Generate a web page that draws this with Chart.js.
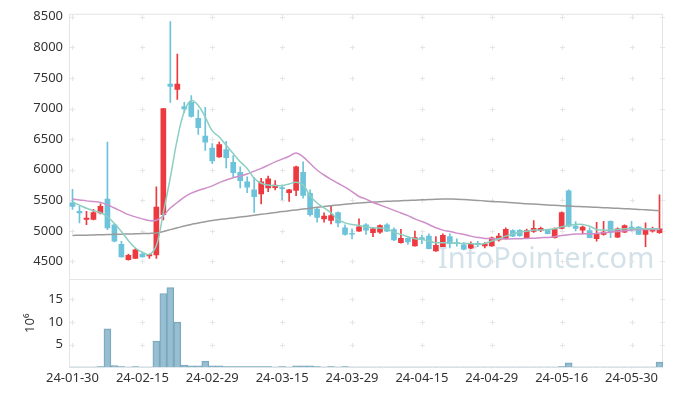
<!DOCTYPE html>
<html>
<head>
<meta charset="utf-8">
<script src="https://cdn.jsdelivr.net/npm/chart.js@4/dist/chart.umd.min.js"></script>
<style>
  body { margin: 0; background: #fff; }
</style>
</head>
<body>
<canvas id="myChart" width="673" height="398"></canvas>
<script>
// trading days
const dates = [
    '24-01-30', '24-01-31', '24-02-01', '24-02-02', '24-02-05', '24-02-06', '24-02-07', '24-02-08', '24-02-13', '24-02-14',
    '24-02-15', '24-02-16', '24-02-19', '24-02-20', '24-02-21', '24-02-22', '24-02-23', '24-02-26', '24-02-27', '24-02-28',
    '24-02-29', '24-03-04', '24-03-05', '24-03-06', '24-03-07', '24-03-08', '24-03-11', '24-03-12', '24-03-13', '24-03-14',
    '24-03-15', '24-03-18', '24-03-19', '24-03-20', '24-03-21', '24-03-22', '24-03-25', '24-03-26', '24-03-27', '24-03-28',
    '24-03-29', '24-04-01', '24-04-02', '24-04-03', '24-04-04', '24-04-05', '24-04-08', '24-04-09', '24-04-11', '24-04-12',
    '24-04-15', '24-04-16', '24-04-17', '24-04-18', '24-04-19', '24-04-22', '24-04-23', '24-04-24', '24-04-25', '24-04-26',
    '24-04-29', '24-04-30', '24-05-02', '24-05-03', '24-05-07', '24-05-08', '24-05-09', '24-05-10', '24-05-13', '24-05-14',
    '24-05-16', '24-05-17', '24-05-20', '24-05-21', '24-05-22', '24-05-23', '24-05-24', '24-05-27', '24-05-28', '24-05-29',
    '24-05-30', '24-05-31', '24-06-03', '24-06-04', '24-06-05'
];

const opens = [
    5460, 5320, 5185, 5185, 5295, 5520, 5100, 4780, 4530, 4550,
    4620, 4590, 4607, 5265, 7400, 7310, 7030, 7100, 6840, 6550,
    6355, 6210, 6330, 6120, 5955, 5800, 5670, 5605, 5700, 5705,
    5700, 5625, 5660, 5955, 5615, 5355, 5195, 5170, 5300, 5050,
    4958, 4995, 5100, 4970, 4980, 5100, 5020, 4808, 4877, 4755,
    4890, 4915, 4672, 4743, 4905, 4807, 4770, 4715, 4796, 4752,
    4752, 4850, 4872, 5006, 5010, 4888, 4990, 5006, 5012, 4888,
    5040, 5654, 5076, 5012, 5006, 4872, 4942, 5157, 4898, 4979,
    5060, 5060, 4942, 4995, 4969
];
const highs = [
    5680, 5400, 5320, 5350, 5440, 6450, 5110, 4830, 4620, 4710,
    4650, 4620, 5720, 7000, 8420, 7890, 7100, 7210, 6975, 7020,
    6425, 6450, 6465, 6230, 6045, 5885, 5875, 5860, 5895, 5820,
    5750, 5680, 6060, 6130, 5670, 5370, 5295, 5415, 5310, 5100,
    5035, 5195, 5120, 5050, 5100, 5120, 5050, 5023, 4890, 4995,
    4930, 4950, 4905, 4950, 4950, 4870, 4810, 4820, 4830, 4810,
    4900, 4960, 5050, 5020, 5020, 5030, 5168, 5060, 5020, 5050,
    5310, 5670, 5150, 5080, 5050, 5141, 5157, 5165, 5050, 5100,
    5157, 5070, 5131, 5060, 5590
];
const lows = [
    5350, 5130, 5100, 5180, 5275, 5020, 4820, 4570, 4520, 4545,
    4570, 4550, 4550, 5180, 7100, 7150, 6935, 6860, 6575, 6315,
    6100, 6200, 6030, 5885, 5700, 5625, 5300, 5440, 5640, 5670,
    5510, 5480, 5575, 5535, 5240, 5140, 5140, 5115, 5065, 4930,
    4870, 4990, 4940, 4905, 4960, 4985, 4840, 4800, 4780, 4750,
    4790, 4705, 4665, 4740, 4720, 4750, 4690, 4710, 4740, 4720,
    4745, 4830, 4865, 4905, 4910, 4880, 4975, 4985, 4950, 4880,
    5030, 5065, 5000, 4955, 4885, 4833, 4930, 4890, 4890, 4970,
    5000, 4940, 4743, 4980, 4960
];
const closes = [
    5400, 5295, 5210, 5300, 5400, 5050, 4830, 4575, 4600, 4690,
    4575, 4612, 5390, 7000, 7360, 7400, 6995, 6870, 6685, 6450,
    6145, 6410, 6195, 5950, 5820, 5715, 5560, 5800, 5850, 5750,
    5690, 5670, 6045, 5580, 5265, 5220, 5240, 5250, 5130, 4940,
    4945, 5065, 5010, 5035, 5085, 4995, 4850, 4877, 4820, 4890,
    4860, 4710, 4765, 4925, 4790, 4792, 4700, 4795, 4780, 4785,
    4888, 4915, 5023, 4915, 4920, 5006, 5040, 5040, 4955, 5023,
    5300, 5076, 5040, 5060, 4888, 4942, 4979, 4979, 5034, 5087,
    5023, 4942, 5034, 5034, 5034
];

// volume in millions of shares
const volumes = [
    0.05, 0.05, 0.05, 0.05, 0.2, 8.5, 0.4, 0.2, 0.05, 0.2,
    0.05, 0.05, 5.8, 16.3, 17.6, 10.0, 0.5, 0.35, 0.35, 1.4,
    0.35, 0.35, 0.2, 0.2, 0.2, 0.2, 0.2, 0.2, 0.2, 0.05,
    0.2, 0.05, 0.35, 0.35, 0.35, 0.2, 0.05, 0.2, 0.05, 0.2,
    0.05, 0.05, 0.05, 0.05, 0.05, 0.05, 0.05, 0.05, 0.05, 0.05,
    0.05, 0.05, 0.05, 0.05, 0.05, 0.05, 0.05, 0.05, 0.05, 0.05,
    0.05, 0.05, 0.05, 0.05, 0.05, 0.05, 0.05, 0.05, 0.05, 0.05,
    0.2, 1.0, 0.05, 0.05, 0.05, 0.05, 0.05, 0.05, 0.05, 0.05,
    0.05, 0.05, 0.05, 0.05, 1.2
];

// moving averages
const ma5 = [
    5471, 5420, 5370, 5330, 5300, 5230, 5120, 4990, 4840, 4720,
    4650, 4615, 4760, 5300, 5870, 6500, 6950, 7130, 7050, 6860,
    6635, 6533, 6398, 6264, 6128, 6021, 5860, 5778, 5751, 5740,
    5740, 5767, 5794, 5751, 5573, 5455, 5374, 5293, 5184, 5131,
    5104, 5087, 5066, 5050, 5045, 5034, 4979, 4942, 4905, 4872,
    4861, 4833, 4807, 4807, 4807, 4796, 4794, 4794, 4780, 4794,
    4833, 4872, 4914, 4953, 4979, 4995, 5012, 5012, 5023, 5034,
    5066, 5087, 5104, 5104, 5076, 5023, 5012, 5012, 5023, 5034,
    5034, 5034, 5034, 5034, 5034
];
const ma20 = [
    5519, 5505, 5490, 5478, 5464, 5427, 5374, 5319, 5265, 5228,
    5196, 5168, 5173, 5249, 5374, 5464, 5552, 5617, 5659, 5697,
    5735, 5788, 5832, 5869, 5896, 5929, 5977, 6021, 6074, 6128,
    6172, 6220, 6273, 6209, 6102, 5994, 5913, 5843, 5778, 5714,
    5642, 5561, 5519, 5464, 5422, 5379, 5335, 5293, 5249, 5196,
    5152, 5104, 5050, 5012, 4990, 4963, 4942, 4914, 4893, 4877,
    4872, 4866, 4866, 4870, 4870, 4877, 4880, 4888, 4893, 4905,
    4925, 4937, 4947, 4950, 4953, 4958, 4969, 4979, 4990, 5001,
    5012, 5023, 5023, 5023, 5023
];
const ma60 = [
    4925, 4928, 4930, 4933, 4936, 4940, 4943, 4946, 4949, 4952,
    4955, 4958, 4965, 4990, 5020, 5050, 5080, 5105, 5130, 5150,
    5168, 5184, 5198, 5212, 5225, 5240, 5255, 5270, 5285, 5300,
    5315, 5328, 5342, 5356, 5370, 5385, 5400, 5412, 5424, 5436,
    5446, 5455, 5462, 5470, 5477, 5483, 5488, 5492, 5497, 5502,
    5507, 5512, 5517, 5519, 5519, 5518, 5512, 5505, 5498, 5490,
    5481, 5474, 5466, 5459, 5451, 5443, 5437, 5431, 5424, 5417,
    5411, 5405, 5400, 5395, 5390, 5384, 5379, 5373, 5368, 5362,
    5357, 5350, 5344, 5337, 5330
];

const priceTicks = [4500, 5000, 5500, 6000, 6500, 7000, 7500, 8000, 8500];
const volTicks = [5, 10, 15];

const upColor = '#ec3a40';
const downColor = '#6dc3da';

// candle colours: red when closing above the open
const candleColors = opens.map((o, i) => closes[i] >= o ? upColor : downColor);

// light frame, "+" marks where grid lines would cross, and the watermark
const panelDecor = {
    id: 'panelDecor',
    beforeDatasetsDraw(chart) {
        const ctx = chart.ctx;
        const x = chart.scales.x;
        const yP = chart.scales.y;
        const yV = chart.scales.yVol;
        ctx.save();

        ctx.font = '29px "Noto Sans"';
        ctx.fillStyle = 'rgba(168, 196, 212, 0.5)';
        ctx.textBaseline = 'alphabetic';
        ctx.fillText('InfoPointer.com', 438, 268);

        ctx.strokeStyle = '#e4e4e4';
        ctx.lineWidth = 1;
        ctx.strokeRect(x.left + 0.5, yP.top + 0.5, x.right - x.left - 1, yP.bottom - yP.top);
        ctx.strokeRect(x.left + 0.5, yV.top + 0.5, x.right - x.left - 1, yV.bottom - yV.top - 1);

        ctx.strokeStyle = '#e6e6e6';
        const cols = [];
        for (let i = 0; i < dates.length; i += 10) cols.push(Math.round(x.getPixelForValue(i)) + 0.5);
        cols.push(x.right - 0.5);
        const rows = priceTicks.map(v => Math.round(yP.getPixelForValue(v)) + 0.5)
            .concat(volTicks.map(v => Math.round(yV.getPixelForValue(v)) + 0.5));
        ctx.beginPath();
        cols.forEach(cx => {
            rows.forEach(cy => {
                ctx.moveTo(cx - 2.5, cy);
                ctx.lineTo(cx + 2.5, cy);
                ctx.moveTo(cx, cy - 2.5);
                ctx.lineTo(cx, cy + 2.5);
            });
        });
        ctx.stroke();
        ctx.restore();
    }
};

const tickFont = { family: '"Noto Sans", sans-serif', size: 13 };

new Chart(document.getElementById('myChart').getContext('2d'), {
    type: 'bar',
    data: {
        labels: dates,
        datasets: [
            {
                type: 'line', label: 'MA5', data: ma5, yAxisID: 'y',
                borderColor: '#8bcfc1', borderWidth: 1.5, pointRadius: 0, tension: 0.4, order: 0
            },
            {
                type: 'line', label: 'MA20', data: ma20, yAxisID: 'y',
                borderColor: '#cf8fca', borderWidth: 1.5, pointRadius: 0, tension: 0.4, order: 0
            },
            {
                type: 'line', label: 'MA60', data: ma60, yAxisID: 'y',
                borderColor: '#9b9b9b', borderWidth: 1.5, pointRadius: 0, tension: 0.4, order: 0
            },
            {
                label: 'wick', data: lows.map((l, i) => [l, highs[i]]), yAxisID: 'y',
                backgroundColor: candleColors, barThickness: 1, grouped: false, order: 2
            },
            {
                label: 'body', data: opens.map((o, i) => [o, closes[i]]), yAxisID: 'y',
                backgroundColor: candleColors, barThickness: 5, minBarLength: 1, grouped: false, order: 1
            },
            {
                label: 'volume', data: volumes, yAxisID: 'yVol',
                backgroundColor: 'rgba(140, 184, 204, 0.9)', borderColor: '#7aa6bc', borderWidth: 1,
                barPercentage: 1, categoryPercentage: 1, grouped: false, order: 3
            }
        ]
    },
    options: {
        responsive: false,
        animation: false,
        layout: { padding: { left: 0, right: 10, top: 12, bottom: 9 } },
        plugins: {
            legend: { display: false },
            tooltip: { enabled: false }
        },
        scales: {
            x: {
                type: 'category',
                offset: true,
                grid: { display: false, drawTicks: false },
                border: { display: false },
                ticks: {
                    autoSkip: false, maxRotation: 0, padding: 3,
                    color: '#333', font: tickFont,
                    callback: (v, i) => i % 10 === 0 ? dates[i] : null
                }
            },
            yVol: {
                position: 'left', stack: 'panels', stackWeight: 1,
                min: 0, max: 19.5,
                afterFit: s => { s.width = 69; },
                afterBuildTicks: s => { s.ticks = volTicks.map(v => ({ value: v })); },
                grid: { display: false, drawTicks: false },
                border: { display: false },
                title: { display: true, text: '10\u2076', color: '#333', font: tickFont, padding: { top: 22, bottom: 0 } },
                ticks: {
                    autoSkip: false, padding: 6, color: '#333', font: tickFont,
                    callback: v => String(v)
                }
            },
            y: {
                position: 'left', stack: 'panels', stackWeight: 3,
                min: 4213, max: 8548,
                afterFit: s => { s.width = 69; },
                afterBuildTicks: s => { s.ticks = priceTicks.map(v => ({ value: v })); },
                grid: { display: false, drawTicks: false },
                border: { display: false },
                ticks: {
                    autoSkip: false, padding: 6, color: '#333', font: tickFont,
                    callback: v => String(v)
                }
            }
        }
    },
    plugins: [panelDecor]
});
</script>
</body>
</html>
